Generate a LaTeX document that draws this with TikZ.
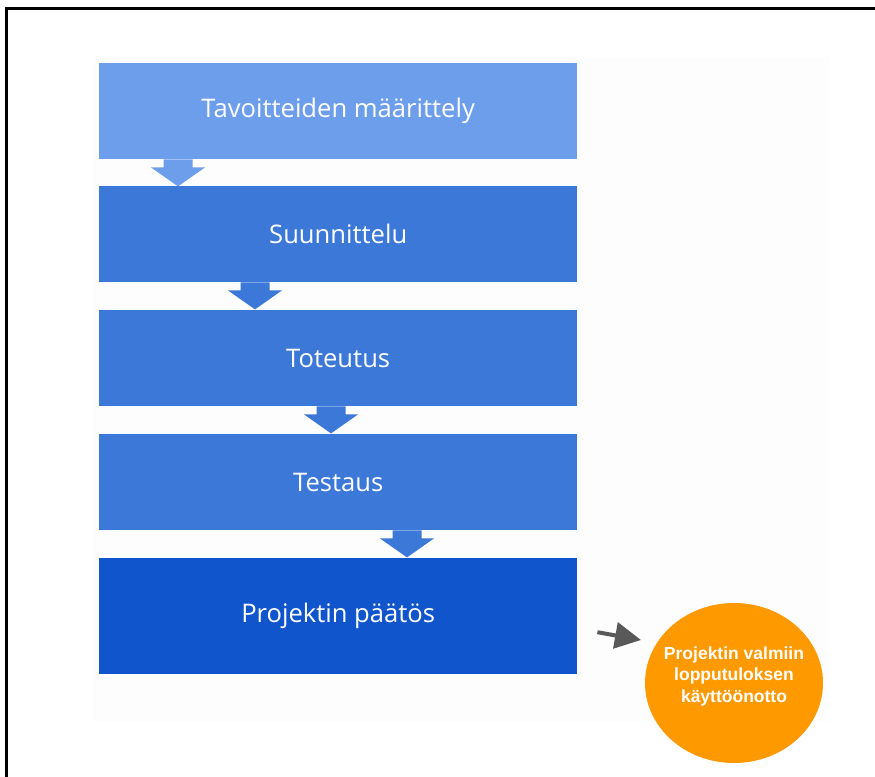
\documentclass[tikz,border=0pt]{standalone}
\usepackage{fontspec}
\setmainfont{Open Sans}
\newfontfamily\circlefont{Liberation Sans}
\usetikzlibrary{shapes.geometric,arrows.meta,calc}

\definecolor{phaselight}{HTML}{6D9EEB}
\definecolor{phasemid}{HTML}{3C78D8}
\definecolor{phasedark}{HTML}{1155CC}
\definecolor{goalorange}{HTML}{FF9900}
\definecolor{pointer}{HTML}{595959}
\definecolor{panel}{HTML}{FDFDFD}

\tikzset{
  phase/.style={rectangle, minimum width=478pt, minimum height=96pt,
    inner sep=0pt, anchor=north west, text=white,
    font=\fontsize{25.6}{30}\selectfont},
  goal/.style={ellipse, fill=goalorange, minimum width=178pt,
    minimum height=160pt, inner sep=0pt},
  goaltext/.style={text=white, align=center,
    font=\circlefont\bfseries\fontsize{17.5}{21.5}\selectfont},
  frameline/.style={line width=2.6pt, black},
}

% block arrow hanging below a phase box: colour, box, x offset from its west side
\newcommand\phasearrow[3]{%
  \fill[#1] ([xshift=#3pt]#2.south west) ++(-14.5,0) -- ++(29,0) -- ++(0,8)
    -- ++(12.5,0) -- ++(-27,19) -- ++(-27,-19) -- ++(12.5,0) -- cycle;}

\begin{document}
\begin{tikzpicture}[x=1pt,y=-1pt]
  \useasboundingbox (0,0) rectangle (875,776);
  \fill[white] (0,0) rectangle (875,776);

  % faint backdrop behind the flow
  \fill[panel] (93,57) rectangle (829,722);

  % outer frame (runs off the right and bottom edges)
  \draw[frameline] (880,8.7) -- (6.5,8.7) -- (6.5,785);

  % phases
  \node[phase, fill=phaselight] (b1) at (99,63)  {Tavoitteiden määrittely};
  \node[phase, fill=phasemid]   (b2) at (99,186) {Suunnittelu};
  \node[phase, fill=phasemid]   (b3) at (99,310) {Toteutus};
  \node[phase, fill=phasemid]   (b4) at (99,434) {Testaus};
  \node[phase, fill=phasedark, minimum height=116pt] (b5) at (99,558) {Projektin päätös};

  % arrows between phases
  \phasearrow{phaselight}{b1}{79}
  \phasearrow{phasemid}{b2}{156}
  \phasearrow{phasemid}{b3}{232}
  \phasearrow{phasemid}{b4}{308}

  % outcome
  \node[goal] (goal) at (734,683) {};
  \node[goaltext] (goallabel) at ([yshift=7pt]goal.center)
    {Projektin valmiin\\lopputuloksen\\käyttöönotto};

  \coordinate (ptail) at ($(b5.east)+(20,16)$);
  \draw[pointer, line width=4pt, -{Triangle[length=26pt,width=26pt]}]
    (ptail) -- ($(goal.center)+(-93,-43)$);
\end{tikzpicture}
\end{document}
